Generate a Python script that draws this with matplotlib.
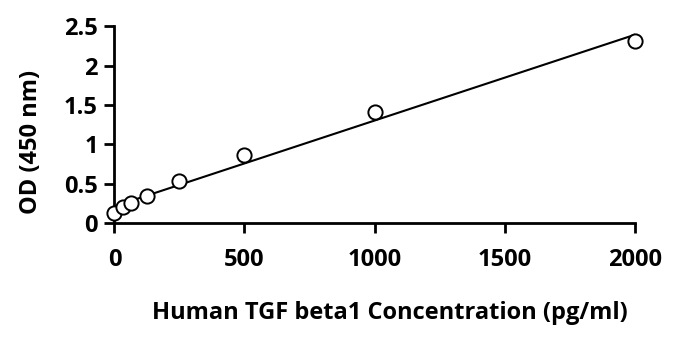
import numpy as np
import matplotlib.pyplot as plt

plt.rcParams['font.family'] = ['Open Sans', 'DejaVu Sans']
plt.rcParams['font.weight'] = 'bold'

# standard curve: concentration (pg/ml) vs optical density
conc = [0, 31.25, 62.5, 125, 250, 500, 1000, 2000]
od = [0.13, 0.20, 0.25, 0.34, 0.53, 0.86, 1.41, 2.31]

fig = plt.figure(figsize=(6.73, 3.38), dpi=100)
ax = fig.add_axes([0.170, 0.340, 0.773, 0.582])

# linear trendline through the standards
slope, icpt = np.polyfit(conc, od, 1)
xs = np.array([0, 2000])
ax.plot(xs, slope * xs + icpt, color='black', lw=1.5, zorder=2)

ax.scatter(conc, od, s=105, facecolor='white', edgecolor='black',
           linewidth=1.4, zorder=3, clip_on=False)

ax.set_xlim(0, 2000)
ax.set_ylim(0, 2.5)
ax.set_xticks([0, 500, 1000, 1500, 2000])
ax.set_xticklabels(['0', '500', '1000', '1500', '2000'])
ax.set_yticks([0, 0.5, 1, 1.5, 2, 2.5])
ax.set_yticklabels(['0', '0.5', '1', '1.5', '2', '2.5'])

for s in ['top', 'right']:
    ax.spines[s].set_visible(False)
for s in ['left', 'bottom']:
    ax.spines[s].set_linewidth(2)

ax.tick_params(axis='both', length=7, width=2, labelsize=17, pad=5)
ax.tick_params(axis='x', pad=11)

ax.set_xlabel('Human TGF beta1 Concentration (pg/ml)', fontsize=17,
              fontweight='bold')
ax.set_ylabel('OD (450 nm)', fontsize=17, fontweight='bold')
ax.xaxis.set_label_coords(0.53, -0.395)
ax.yaxis.set_label_coords(-0.137, 0.41)

fig.savefig('out.png', dpi=100)
